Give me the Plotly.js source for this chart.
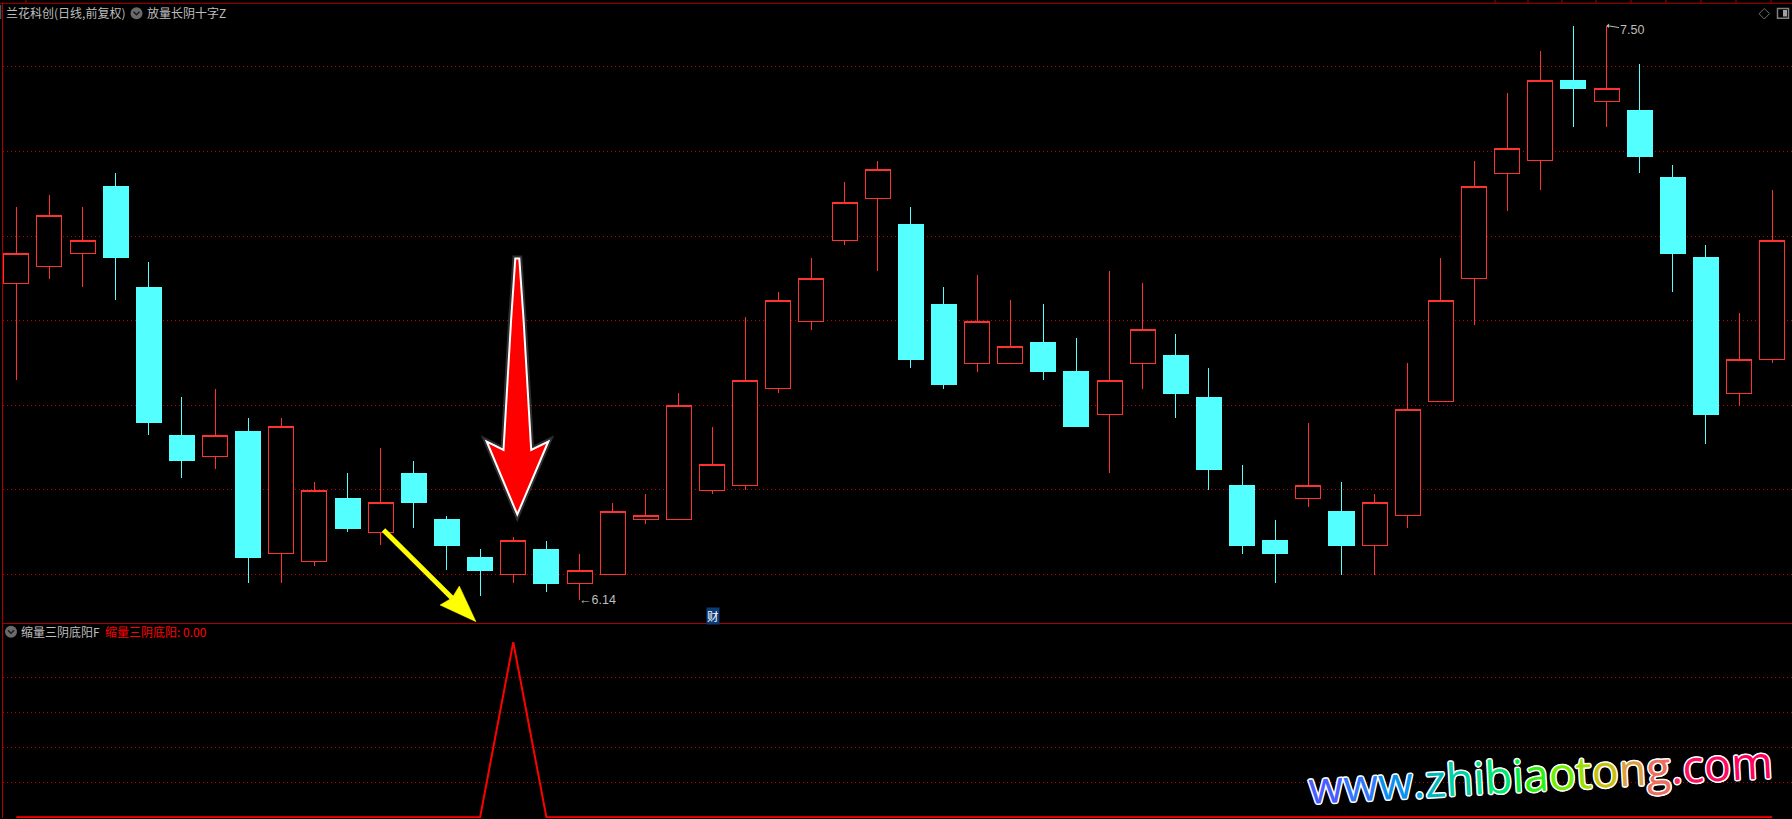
<!DOCTYPE html>
<html>
<head>
<meta charset="utf-8">
<script src="https://cdn.plot.ly/plotly-3.0.1.min.js"></script>
<style>html,body{margin:0;padding:0;background:#000;overflow:hidden}
.boxes path{shape-rendering:crispEdges}</style>
</head>
<body>
<div id="chart" style="width:1792px;height:819px"></div>
<script>
// Daily candles (index = trading day), prices
const open  = [6.89,6.93,6.96,7.12,6.88,6.53,6.48,6.54,6.25,6.23,6.38,6.30,6.44,6.33,6.24,6.20,6.26,6.18,6.20,6.33,6.33,6.40,6.41,6.64,6.80,6.99,7.09,7.03,6.84,6.70,6.70,6.75,6.68,6.58,6.70,6.72,6.62,6.41,6.28,6.38,6.35,6.27,6.34,6.61,6.90,7.15,7.18,7.37,7.32,7.30,7.14,6.95,6.63,6.71];
const close = [6.96,7.05,6.99,6.95,6.56,6.47,6.53,6.24,6.55,6.40,6.31,6.37,6.37,6.27,6.21,6.28,6.18,6.21,6.35,6.34,6.60,6.46,6.66,6.85,6.90,7.08,7.16,6.71,6.65,6.80,6.74,6.68,6.55,6.66,6.78,6.63,6.45,6.27,6.25,6.41,6.27,6.37,6.59,6.85,7.12,7.21,7.37,7.35,7.35,7.19,6.96,6.58,6.71,6.99];
const high  = [7.07,7.10,7.07,7.15,6.94,6.62,6.64,6.57,6.57,6.42,6.44,6.50,6.47,6.34,6.26,6.29,6.28,6.25,6.37,6.39,6.63,6.55,6.81,6.87,6.95,7.13,7.18,7.07,6.88,6.91,6.85,6.84,6.76,6.92,6.89,6.77,6.69,6.46,6.33,6.56,6.42,6.39,6.70,6.95,7.18,7.34,7.44,7.50,7.50,7.41,7.17,6.98,6.82,7.11];
const low   = [6.66,6.90,6.88,6.85,6.53,6.43,6.45,6.18,6.18,6.22,6.30,6.27,6.31,6.21,6.15,6.18,6.16,6.14,6.20,6.32,6.33,6.39,6.40,6.63,6.78,6.98,6.92,6.69,6.64,6.68,6.70,6.66,6.55,6.44,6.64,6.57,6.40,6.25,6.18,6.36,6.20,6.20,6.31,6.61,6.79,7.06,7.11,7.26,7.26,7.15,6.87,6.51,6.60,6.70];
// Lower panel: 缩量三阴底阳 signal
const signal = [0,0,0,0,0,0,0,0,0,0,0,0,0,0,0,1,0,0,0,0,0,0,0,0,0,0,0,0,0,0,0,0,0,0,0,0,0,0,0,0,0,0,0,0,0,0,0,0,0,0,0,0,0,0];
const days = open.map((_, i) => i);
// Grid levels
const priceGrid = [7.4036,7.2023,7.0011,6.8022,6.6009,6.402,6.2008];
const signalGrid = [0.2,0.4,0.6,0.8];
// Labels
const stockTitle = '兰花科创(日线,前复权)';
const formulaTitle = '放量长阴十字Z';
const subTitle = '缩量三阴底阳F';
const subLegend = '缩量三阴底阳: 0.00';
const watermark = 'www.zhibiaotong.com';
const watermarkColors = ['#4a5cff','#2f78ff','#0a90f0','#00a4e0','#00b8c0','#00d0a8','#00e090','#00e870','#00f040','#30f010','#70f000','#a0e000','#c8c010','#dca040','#ec7060','#ff2c60','#ff1060','#ff0a60','#ff0060'];
// Decorative scale marks along the top edge
const topTickPx = [26,1495,1528,1562,1596,1631,1666,1701,1736,1771];

const L=3,R=0,T=3,B=1,W=1792,H=819;
const PW=W-L-R, PH=H-T-B;
const px = x => (x-L)/PW;
const py = y => (H-B-y)/PH;
const divider = py(623.3);
const RED='#a80000', GRIDC='#c00000', CAND='#ff3232', CYAN='#54ffff', TXT='#bdbdbd';

const poly = pts => 'M'+pts.map(p=>px(p[0])+' '+py(p[1])).join('L')+'Z';
const open_ = pts => 'M'+pts.map(p=>px(p[0])+' '+py(p[1])).join('L');
const pshape = (path,o) => Object.assign({type:'path',xref:'paper',yref:'paper',path:path,line:{width:0}},o);
const lineS = (x0,y0,x1,y1,c,w) => ({type:'line',xref:'paper',yref:'paper',x0:px(x0),y0:py(y0),x1:px(x1),y1:py(y1),line:{color:c,width:w}});
const circ = (cx,cy,r,c) => ({type:'circle',xref:'paper',yref:'paper',x0:px(cx-r),x1:px(cx+r),y0:py(cy+r),y1:py(cy-r),fillcolor:c,line:{width:0}});
const chevron = (cx,cy) => pshape(open_([[cx-3,cy-1.5],[cx,cy+1.5],[cx+3,cy-1.5]]),{line:{color:'#1c1c1c',width:1.5}});

const redArrow = [[515.3,258.5],[519.3,258.5],[523.6,320],[531.2,450],[548.3,441.5],[517.3,514.5],[486.7,441.5],[503.5,450],[511.1,320]];
const yellowHead = [[459.3,586],[476,621.7],[440,605],[452,598]];

const shapes = [
  lineS(0,3.3,W,3.3,RED,1),
  lineS(0.5,5,0.5,19,'#555',1.5),
  ...topTickPx.map(x=>lineS(x,0,x,3,RED,1)),
  pshape(poly(redArrow),{line:{color:'rgba(255,255,255,0.18)',width:6}}),
  pshape(poly(redArrow),{fillcolor:'#ff0000',line:{color:'#ffffff',width:2}}),
  lineS(383.5,530,452,598,'#ffff00',5),
  pshape(poly(yellowHead),{fillcolor:'#ffff00',line:{color:'#ffff00',width:0.5}}),
  circ(136.5,13.3,6,'#6a6a6a'), chevron(136.5,13.3),
  circ(11,631.7,6,'#6a6a6a'), chevron(11,631.7),
  pshape(poly([[1764.3,8.5],[1769.5,13.7],[1764.3,19],[1759,13.7]]),{line:{color:'#707070',width:1}}),
  {type:'rect',xref:'paper',yref:'paper',x0:px(1777.5),x1:px(1788.5),y0:py(18.2),y1:py(8.5),line:{color:'#808080',width:1.5},fillcolor:'#000'},
  {type:'rect',xref:'paper',yref:'paper',x0:px(1783),x1:px(1787),y0:py(16.5),y1:py(10),line:{width:0},fillcolor:'#a0a0a0'}
];

const ann = (x,y,text,o) => Object.assign({xref:'paper',yref:'paper',x:px(x),y:py(y),text:text,showarrow:false,xanchor:'left',yanchor:'middle',borderpad:0,
  font:{family:'"Noto Sans CJK SC","Noto Sans",sans-serif',size:12,color:TXT}},o||{});
const outline = '1.5px 0 0 #fff,-1.5px 0 0 #fff,0 1.5px 0 #fff,0 -1.5px 0 #fff,1px 1px 0 #fff,-1px 1px 0 #fff,1px -1px 0 #fff,-1px -1px 0 #fff';
const wmText = watermark.split('').map((ch,i)=>'<span style="color:'+watermarkColors[i]+'">'+ch+'</span>').join('');

const annotations = [
  ann(5,12.5,stockTitle),
  ann(146,12.5,formulaTitle),
  ann(19.5,631.5,subTitle),
  ann(104,631.5,subLegend,{font:{family:'"Noto Sans CJK SC",sans-serif',size:12,color:'#ff0000'}}),
  ann(578,600,'←6.14',{font:{family:'"Liberation Sans",sans-serif',size:12.5,color:TXT}}),
  {xref:'x',yref:'y',x:48,y:7.50,text:'7.50',showarrow:true,ax:25,ay:4,arrowcolor:TXT,arrowwidth:1,arrowhead:1,arrowsize:0.8,borderpad:0,
    font:{family:'"Liberation Sans",sans-serif',size:12.5,color:TXT}},
  ann(705.5,615.7,'财',{bgcolor:'#0c3c78',font:{family:'"Noto Sans CJK SC",sans-serif',size:11.5,color:'#ffffff'}}),
  {xref:'paper',yref:'paper',x:px(1540),y:py(773),text:wmText,showarrow:false,textangle:-3.2,xanchor:'center',yanchor:'middle',
    font:{family:'"Open Sans",sans-serif',size:45,weight:500,color:'#fff',shadow:outline}}
];

const candle = {
  type:'candlestick',x:days,open:open,high:high,low:low,close:close,xaxis:'x',yaxis:'y',whiskerwidth:0,
  increasing:{line:{color:CAND,width:1},fillcolor:'#000000'},
  decreasing:{line:{color:CYAN,width:1},fillcolor:CYAN},
  hoverinfo:'skip',showlegend:false
};
const sig = {type:'scatter',mode:'lines',x:days,y:signal,xaxis:'x2',yaxis:'y2',line:{color:'#ff0000',width:2},cliponaxis:false,hoverinfo:'skip',showlegend:false};

const xr=[(3-16.3)/33.13,(1792-16.3)/33.13];
const gridy=(vals)=>({tickmode:'array',tickvals:vals,ticks:'',showticklabels:false,showgrid:true,gridcolor:GRIDC,griddash:'1px,3px',gridwidth:1,zeroline:false,
  showline:true,linecolor:RED,linewidth:1,fixedrange:true});
const layout = {
  width:W,height:H,autosize:false,paper_bgcolor:'#000',plot_bgcolor:'#000',
  margin:{l:L,r:R,t:T,b:B,pad:0},showlegend:false,boxgap:0.245,boxgroupgap:0,dragmode:false,
  xaxis:{domain:[0,1],range:xr,showgrid:false,zeroline:false,showticklabels:false,ticks:'',showline:true,linecolor:RED,linewidth:1,rangeslider:{visible:false},anchor:'y',fixedrange:true},
  xaxis2:{domain:[0,1],range:xr,showgrid:false,zeroline:false,showticklabels:false,ticks:'',showline:false,anchor:'y2',fixedrange:true},
  yaxis:Object.assign(gridy(priceGrid),{domain:[divider,1],range:[6.0848,7.5534],anchor:'x'}),
  yaxis2:Object.assign(gridy(signalGrid),{domain:[0,divider],range:[-0.005,1.1085],anchor:'x2'}),
  shapes:shapes,annotations:annotations
};
Plotly.newPlot('chart',[candle,sig],layout,{displayModeBar:false,staticPlot:true});
</script>
</body>
</html>
